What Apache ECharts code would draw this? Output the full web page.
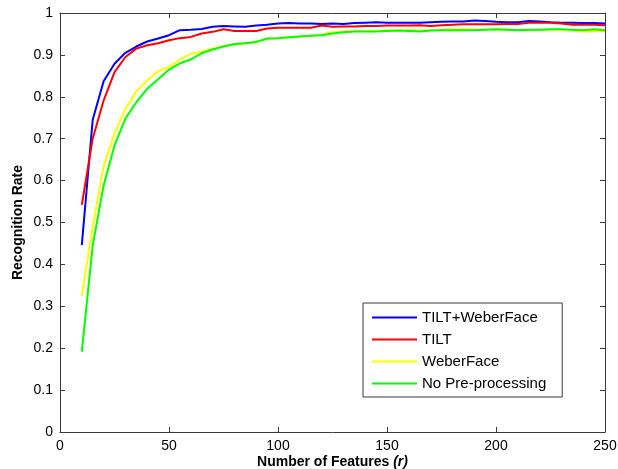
<!DOCTYPE html>
<html>
<head>
<meta charset="utf-8">
<script src="https://cdn.jsdelivr.net/npm/echarts@6/dist/echarts.min.js"></script>
<style>html,body{margin:0;padding:0;background:#fff}#c{width:618px;height:469px}</style>
</head>
<body>
<div id="c"></div>
<script>
const features = [10,15,20,25,30,35,40,45,50,55,60,65,70,75,80,85,90,95,100,105,110,115,120,125,130,135,140,145,150,155,160,165,170,175,180,185,190,195,200,205,210,215,220,225,230,235,240,245,250];
const tiltWeber = [0.446,0.745,0.837,0.879,0.905,0.920,0.932,0.939,0.947,0.959,0.960,0.962,0.967,0.969,0.968,0.967,0.970,0.972,0.975,0.976,0.975,0.975,0.974,0.975,0.974,0.976,0.977,0.978,0.977,0.977,0.977,0.977,0.978,0.979,0.980,0.980,0.982,0.981,0.979,0.978,0.978,0.981,0.980,0.978,0.977,0.977,0.976,0.976,0.975];
const tilt = [0.542,0.700,0.791,0.859,0.895,0.915,0.923,0.928,0.935,0.940,0.943,0.951,0.955,0.961,0.957,0.957,0.957,0.963,0.965,0.965,0.965,0.965,0.970,0.967,0.968,0.968,0.969,0.969,0.970,0.970,0.970,0.971,0.969,0.971,0.972,0.973,0.973,0.973,0.973,0.974,0.974,0.977,0.977,0.977,0.975,0.972,0.972,0.972,0.971];
const weber = [0.325,0.490,0.634,0.712,0.771,0.813,0.839,0.861,0.871,0.889,0.903,0.908,0.915,0.921,0.925,0.928,0.931,0.939,0.940,0.942,0.944,0.946,0.948,0.954,0.956,0.957,0.957,0.957,0.958,0.958,0.959,0.958,0.958,0.960,0.961,0.961,0.960,0.960,0.961,0.960,0.959,0.959,0.960,0.960,0.960,0.958,0.956,0.957,0.957];
const noPre = [0.192,0.445,0.588,0.684,0.748,0.787,0.819,0.842,0.865,0.880,0.889,0.904,0.913,0.920,0.926,0.928,0.931,0.939,0.940,0.942,0.944,0.946,0.947,0.951,0.954,0.956,0.956,0.956,0.957,0.958,0.957,0.956,0.958,0.959,0.959,0.959,0.959,0.960,0.961,0.960,0.959,0.960,0.960,0.961,0.961,0.960,0.959,0.961,0.959];
const seriesNames = ['TILT+WeberFace','TILT','WeberFace','No Pre-processing'];
const seriesColors = ['#0000ff','#ff0000','#ffff00','#00ff00'];
const seriesValues = [tiltWeber, tilt, weber, noPre];

const font = 'Liberation Sans, Arial, Helvetica, sans-serif';
const axisColor = '#3a3a3a';
const chart = echarts.init(document.getElementById('c'));
const baseAxis = {
  axisLine: {show: true, onZero: false, lineStyle: {color: axisColor, width: 1}},
  axisTick: {show: true, inside: true, length: 5, lineStyle: {color: axisColor}},
  splitLine: {show: false}
};
chart.setOption({
  animation: false,
  backgroundColor: '#fff',
  grid: {left: 60, right: 13, top: 13, bottom: 37, containLabel: false, outerBoundsMode: 'none'},
  legend: {
    orient: 'vertical', left: 363, top: 303,
    data: seriesNames,
    icon: 'rect', itemWidth: 45, itemHeight: 2, itemGap: 7,
    padding: [7, 16, 6, 9],
    borderColor: '#3a3a3a', borderWidth: 1, backgroundColor: '#fff',
    textStyle: {fontFamily: font, fontSize: 15, color: '#000'}
  },
  xAxis: [
    Object.assign({}, baseAxis, {
      type: 'value', min: 0, max: 250, interval: 50, position: 'bottom',
      axisLabel: {fontFamily: font, fontSize: 14, color: '#000', margin: 7},
      name: '{b|Number of Features}{i| (r)}', nameLocation: 'middle', nameGap: 23, nameMoveOverlap: false,
      nameTextStyle: {rich: {b: {fontFamily: font, fontSize: 14, fontWeight: 'bold', color: '#000'}, i: {fontFamily: font, fontSize: 14, fontWeight: 'bold', fontStyle: 'italic', color: '#000'}}}
    }),
    Object.assign({}, baseAxis, {
      type: 'value', min: 0, max: 250, interval: 50, position: 'top',
      axisLabel: {show: false}
    })
  ],
  yAxis: [
    Object.assign({}, baseAxis, {
      type: 'value', min: 0, max: 1, interval: 0.1, position: 'left',
      axisLabel: {fontFamily: font, fontSize: 14, color: '#000', margin: 7},
      name: 'Recognition Rate', nameLocation: 'middle', nameGap: 35, nameMoveOverlap: false,
      nameTextStyle: {fontFamily: font, fontSize: 14, fontWeight: 'bold', color: '#000'}
    }),
    Object.assign({}, baseAxis, {
      type: 'value', min: 0, max: 1, interval: 0.1, position: 'right',
      axisLabel: {show: false}
    })
  ],
  series: seriesNames.map((n, i) => ({
    name: n, type: 'line', symbol: 'none', silent: true,
    color: seriesColors[i],
    lineStyle: {color: seriesColors[i], width: 2},
    data: features.map((f, j) => [f, seriesValues[i][j]])
  }))
});
</script>
</body>
</html>
